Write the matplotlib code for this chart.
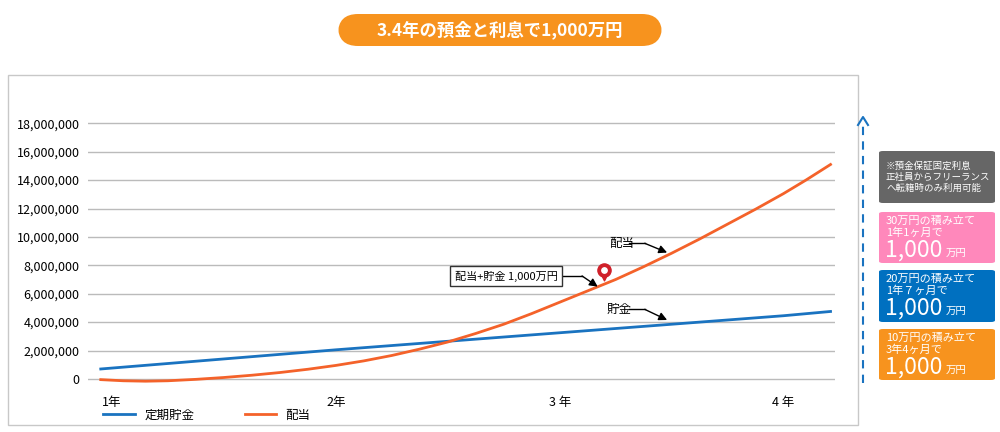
import matplotlib
matplotlib.use("Agg")
import matplotlib.pyplot as plt
from matplotlib.patches import FancyBboxPatch, Rectangle
from matplotlib.lines import Line2D

plt.rcParams["font.family"] = "Noto Sans CJK JP"

# data (years, yen)
savings_years = [0.95, 2.0, 3.0, 4.0, 4.21]
savings_values = [700000, 2050000, 3250000, 4450000, 4750000]
dividend_years = [0.95, 1.05, 1.15, 1.25, 1.375, 1.5, 1.625, 1.75, 1.875, 2.0, 2.125, 2.25, 2.375, 2.5,
                  2.625, 2.75, 2.875, 3.0, 3.125, 3.25, 3.375, 3.5, 3.625, 3.75, 3.875, 4.0, 4.1, 4.21]
dividend_values = [-50000, -130000, -160000, -130000, -30000, 100000, 260000, 450000, 680000, 950000,
                   1270000, 1650000, 2100000, 2600000, 3200000, 3850000, 4600000, 5400000, 6200000,
                   7000000, 7900000, 8850000, 9850000, 10900000, 11950000, 13050000, 14000000, 15100000]
x_ticks = [1, 2, 3, 4]
x_labels = ["1年", "2年", "3 年", "4 年"]
y_ticks = list(range(0, 18000001, 2000000))
marker_point = (3.2, 7200000)

BLUE = "#1a73c0"
ORANGE = "#f4622a"

fig = plt.figure(figsize=(10, 4.32), dpi=100)

def P(x, y):
    return (x / 1000, 1 - y / 432)

fig.patches.append(Rectangle(P(8, 425), 850 / 1000, 350 / 432, transform=fig.transFigure,
                             fill=False, edgecolor="#c8c8c8", lw=1))

ax = fig.add_axes([0.088, 1 - 390 / 432, 0.747, (390 - 102) / 432])
ax.plot(savings_years, savings_values, color=BLUE, lw=2, label="定期貯金")
ax.plot(dividend_years, dividend_values, color=ORANGE, lw=2, label="配当")
ax.set_xlim(0.893, 4.23)
ax.set_ylim(-780000, 19500000)
ax.set_yticks(y_ticks)
ax.set_yticklabels([f"{v:,}" for v in y_ticks], fontsize=9)
ax.set_xticks(x_ticks)
ax.set_xticklabels(x_labels, fontsize=9)
ax.tick_params(length=0, pad=6)
ax.tick_params(axis="x", pad=4)
ax.grid(axis="y", color="#bbbbbb", lw=1)
ax.set_axisbelow(True)
for s in ax.spines.values():
    s.set_visible(False)

# pin marker
ax.scatter([marker_point[0]], [marker_point[1] + 150000], marker="v", s=60, color="#d0202a", zorder=5)
ax.scatter([marker_point[0]], [marker_point[1] + 500000], marker="o", s=90, color="#d0202a", zorder=6)
ax.scatter([marker_point[0]], [marker_point[1] + 500000], marker="o", s=15, color="white", zorder=7)

head = dict(arrowstyle="-|>", color="black", lw=1, mutation_scale=12, shrinkA=0, shrinkB=0)

def callout(text, tx, ty, x1, x2, y2, **kw):
    ax.text(tx, ty, text, va="center", **kw)
    ax.plot([x1 - 0.07, x1], [ty, ty], color="black", lw=1)
    ax.annotate("", xy=(x2, y2), xytext=(x1, ty), arrowprops=head)

callout("配当", 3.22, 9550000, 3.38, 3.48, 8900000, fontsize=9)
callout("貯金", 3.21, 4900000, 3.38, 3.48, 4150000, fontsize=9)
ax.text(2.99, 7250000, "配当+貯金 1,000万円", fontsize=8, va="center", ha="right",
        bbox=dict(boxstyle="square,pad=0.4", fc="white", ec="#333333", lw=1))
ax.plot([3.0, 3.1], [7250000, 7250000], color="black", lw=1)
ax.annotate("", xy=(3.17, 6500000), xytext=(3.1, 7250000), arrowprops=head)

fig.legend(handles=[Line2D([], [], color=BLUE, lw=2), Line2D([], [], color=ORANGE, lw=2)],
           labels=["定期貯金", "配当"], loc="center left", bbox_to_anchor=P(92, 415),
           ncol=2, frameon=False, fontsize=9, handlelength=2.5, columnspacing=4)

fig.patches.append(FancyBboxPatch(P(338, 46), 324 / 1000, 32 / 432, transform=fig.transFigure,
                                  boxstyle="round,pad=0,rounding_size=0.02", fc="#f7931e", ec="none",
                                  mutation_aspect=2.3))
fig.text(*P(500, 30), "3.4年の預金と利息で1,000万円", color="white", fontsize=12.5,
         fontweight="bold", ha="center", va="center")

fig.add_artist(Line2D([0.863, 0.863], [1 - 383 / 432, 1 - 122 / 432], transform=fig.transFigure,
                      color=BLUE, lw=1.5, ls=(0, (4, 3))))
fig.add_artist(Line2D([0.858, 0.863, 0.868], [1 - 125 / 432, 1 - 117 / 432, 1 - 125 / 432],
                      transform=fig.transFigure, color=BLUE, lw=1.5))

def box(y0, y1, color):
    fig.patches.append(FancyBboxPatch(P(879, y1), 116 / 1000, (y1 - y0) / 432, transform=fig.transFigure,
                                      boxstyle="round,pad=0,rounding_size=0.004", fc=color, ec="none"))

box(151, 203, "#666666")
fig.text(*P(886, 177), "※預金保証固定利息\n正社員からフリーランス\nへ転籍時のみ利用可能", color="white",
         fontsize=6.8, va="center", linespacing=1.25)
for (y0, y1, c, l1, l2) in [(212, 263, "#ff88bb", "30万円の積み立て", "1年1ヶ月で"),
                            (270, 322, "#0070c0", "20万円の積み立て", "1年７ヶ月で"),
                            (329, 380, "#f7931e", "10万円の積み立て", "3年4ヶ月で")]:
    box(y0, y1, c)
    fig.text(*P(886, y0 + 9), l1, color="white", fontsize=8, va="center")
    fig.text(*P(886, y0 + 21), l2, color="white", fontsize=8, va="center")
    fig.text(*P(885, y0 + 38), "1,000", color="white", fontsize=16.5, va="center")
    fig.text(*P(946, y0 + 41), "万円", color="white", fontsize=7.5, va="center")

fig.savefig("out.png", dpi=100)
